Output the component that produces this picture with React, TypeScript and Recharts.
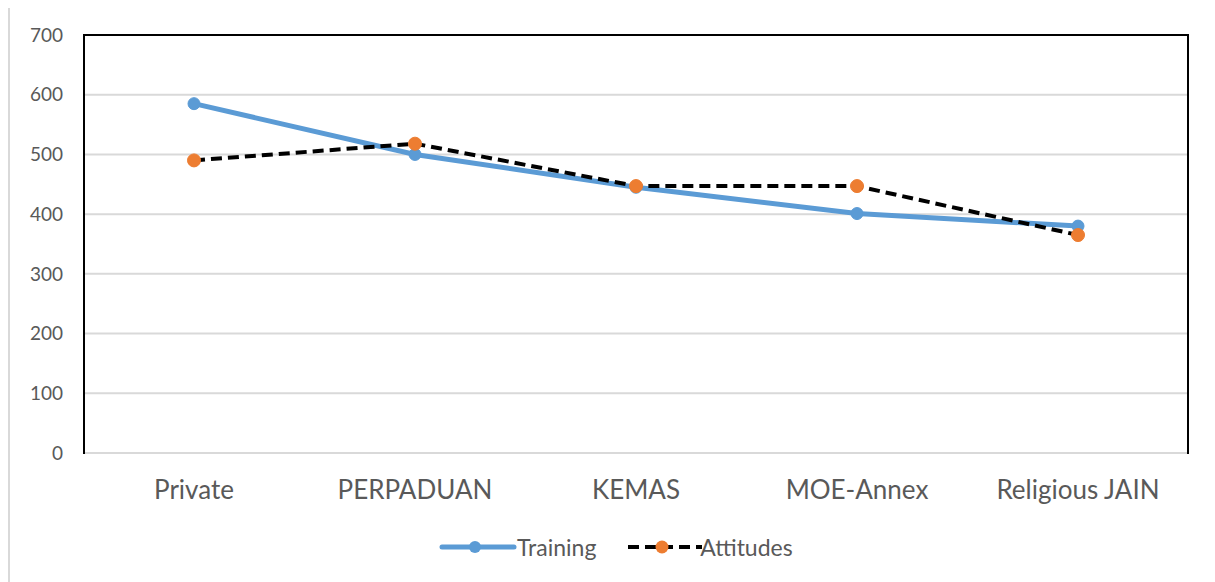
import { CartesianGrid, Line, LineChart, XAxis, YAxis } from "recharts";

const categories = ["Private", "PERPADUAN", "KEMAS", "MOE-Annex", "Religious JAIN"];
const training = [585, 500, 445, 401, 380];
const attitudes = [490, 518, 447, 447, 365];
const yTicks = [0, 100, 200, 300, 400, 500, 600, 700];

const BLUE = "#5B9BD5";
const ORANGE = "#ED7D31";
const GRID = "#d9d9d9";
const TEXT = "#595959";
const FONT = "Lato, 'Open Sans', sans-serif";

const data = categories.map((name, i) => ({
  name,
  training: training[i],
  attitudes: attitudes[i],
}));

function LegendRow() {
  return (
    <div
      style={{
        position: "absolute",
        left: 430,
        top: 525,
        display: "flex",
        alignItems: "center",
        fontFamily: FONT,
        fontSize: 23,
        color: TEXT,
      }}
    >
      <svg width={80} height={24}>
        <line x1={4} y1={12} x2={76} y2={12} stroke={BLUE} strokeWidth={5} strokeLinecap="round" />
        <circle cx={37} cy={12} r={6} fill={BLUE} />
      </svg>
      <span style={{ marginLeft: -1 }}>Training</span>
      <svg width={80} height={24} style={{ marginLeft: 26 }}>
        <line x1={6} y1={12} x2={80} y2={12} stroke="#000" strokeWidth={4} strokeDasharray="11 6" />
        <circle cx={40} cy={12} r={6.5} fill={ORANGE} />
      </svg>
      <span style={{ marginLeft: -2 }}>Attitudes</span>
    </div>
  );
}

export default function App() {
  return (
    <div style={{ position: "relative", width: 1199, height: 574 }}>
      {/* outer chart border: only top and left show in the frame */}
      <div
        style={{
          position: "absolute",
          left: 0,
          top: -2,
          width: 1215,
          height: 590,
          borderTop: `2px solid ${GRID}`,
          borderLeft: `2px solid ${GRID}`,
          boxSizing: "border-box",
        }}
      />
      <LineChart
        width={1199}
        height={574}
        data={data}
        margin={{ top: 27, right: 19, left: 16, bottom: 69 }}
        style={{ position: "absolute", left: 0, top: 0 }}
      >
        <CartesianGrid stroke={GRID} strokeWidth={2} vertical={false} />
        <XAxis
          dataKey="name"
          height={60}
          padding={{ left: 110, right: 110 }}
          axisLine={{ stroke: GRID, strokeWidth: 2 }}
          tickLine={false}
          tickMargin={22}
          tick={{ fontSize: 26, fill: TEXT, fontFamily: FONT }}
        />
        <YAxis
          width={60}
          domain={[0, 700]}
          ticks={yTicks}
          axisLine={false}
          tickLine={false}
          tickSize={0}
          tickMargin={21}
          tick={{ fontSize: 19, fill: TEXT, fontFamily: FONT }}
        />
        <Line
          dataKey="training"
          stroke={BLUE}
          strokeWidth={5}
          dot={{ r: 6, fill: BLUE, stroke: BLUE, strokeWidth: 1 }}
          isAnimationActive={false}
        />
        <Line
          dataKey="attitudes"
          stroke="#000"
          strokeWidth={4}
          strokeDasharray="11 6"
          dot={{ r: 6.5, fill: ORANGE, stroke: ORANGE, strokeWidth: 1, strokeDasharray: "0" }}
          isAnimationActive={false}
        />
      </LineChart>
      {/* plot frame: top, left and right edges drawn black */}
      <div
        style={{
          position: "absolute",
          left: 75,
          top: 26,
          width: 1106,
          height: 420,
          borderTop: "2px solid #000",
          borderLeft: "2px solid #000",
          borderRight: "2px solid #000",
          boxSizing: "border-box",
          pointerEvents: "none",
        }}
      />
      <LegendRow />
    </div>
  );
}
